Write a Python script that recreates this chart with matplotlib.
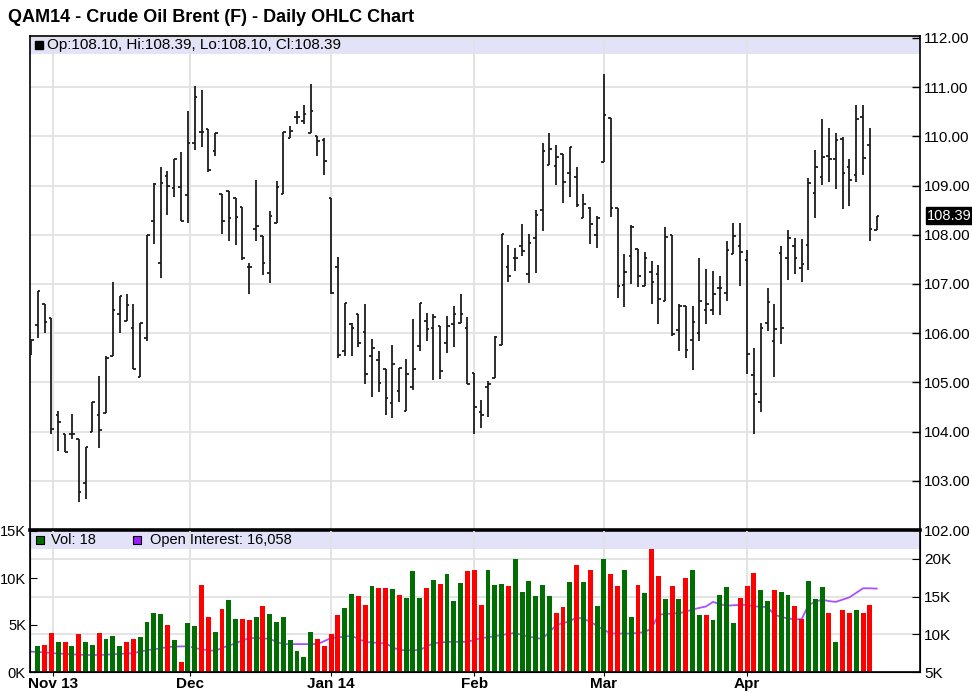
import matplotlib
matplotlib.use("Agg")
import matplotlib.pyplot as plt
from matplotlib.patches import Rectangle
from matplotlib.transforms import blended_transform_factory
import numpy as np

plt.rcParams['font.family'] = ['Liberation Sans', 'DejaVu Sans']

title = "QAM14 - Crude Oil Brent (F) - Daily OHLC Chart"

# daily OHLC, one row per trading day (late Oct 2013 .. late Apr 2014)
opens = [105.56, 106.17, 106.60, 106.30, 104.34, 103.95, 103.95, 103.84, 102.95, 103.99,
         104.34, 104.37, 105.53, 106.40, 106.25, 106.11, 105.10, 105.91, 108.27, 107.43,
         109.19, 108.95, 108.97, 108.80, 109.86, 110.09, 110.14, 109.71, 108.83, 108.88,
         108.75, 108.57, 107.34, 108.11, 107.98, 107.23, 108.24, 108.83, 109.97, 110.40,
         110.32, 110.07, 110.00, 109.93, 108.75, 107.34, 105.64, 106.18, 106.40, 106.03,
         105.54, 105.45, 105.27, 104.59, 104.83, 104.42, 104.91, 105.74, 106.25, 106.11,
         106.15, 105.81, 106.18, 106.21, 106.11, 105.20, 104.39, 104.91, 105.08, 105.77,
         107.34, 107.53, 107.77, 107.21, 107.94, 108.51, 109.41, 109.39, 109.64, 109.26,
         109.17, 108.34, 108.55, 108.00, 109.48, 110.37, 108.55, 106.98, 107.56, 107.71,
         106.95, 107.25, 107.21, 106.65, 108.00, 106.06, 106.55, 105.86, 106.01, 106.48,
         106.48, 106.91, 106.81, 107.60, 107.77, 107.48, 105.15, 104.61, 106.21, 105.84,
         107.63, 107.53, 107.77, 107.33, 107.80, 108.85, 109.17, 109.61, 109.55, 109.95,
         109.37, 109.22, 110.39, 109.82, 108.10]
highs = [105.86, 106.86, 106.60, 106.30, 104.42, 103.95, 104.35, 103.84, 103.69, 104.60,
         105.12, 105.54, 107.04, 106.76, 106.80, 106.59, 106.20, 107.99, 109.05, 109.37,
         109.29, 109.55, 109.69, 110.52, 111.03, 110.95, 110.14, 110.06, 108.83, 108.88,
         108.75, 108.57, 107.43, 109.12, 107.98, 108.48, 109.09, 110.09, 110.22, 110.51,
         110.64, 111.06, 110.00, 109.97, 108.75, 107.55, 106.62, 106.21, 106.40, 106.60,
         105.89, 105.64, 105.27, 105.77, 105.29, 105.48, 106.28, 106.62, 106.42, 106.40,
         106.15, 106.35, 106.55, 106.79, 106.32, 105.20, 104.64, 105.03, 105.94, 108.02,
         107.80, 107.73, 108.21, 108.02, 108.51, 109.86, 110.07, 109.83, 109.64, 109.78,
         109.37, 108.83, 108.56, 108.38, 111.26, 110.37, 108.55, 107.61, 108.19, 107.71,
         107.65, 107.46, 107.38, 108.16, 108.00, 106.59, 106.55, 106.55, 107.52, 107.30,
         107.26, 107.17, 107.87, 108.23, 108.23, 107.69, 105.69, 106.21, 106.92, 106.59,
         107.78, 108.09, 107.94, 107.92, 109.15, 109.73, 110.36, 110.18, 110.07, 109.98,
         109.55, 110.64, 110.64, 110.17, 108.39]
lows = [105.56, 105.90, 106.01, 103.96, 103.61, 103.59, 103.85, 102.56, 102.62, 103.99,
        103.67, 104.37, 105.53, 106.01, 106.25, 105.28, 105.10, 105.85, 107.82, 107.13,
        108.41, 108.76, 108.27, 108.24, 109.73, 109.78, 109.28, 109.61, 108.02, 107.87,
        107.79, 107.48, 106.79, 107.87, 107.19, 107.02, 108.24, 108.83, 109.97, 110.25,
        110.25, 110.07, 109.61, 109.22, 106.79, 105.50, 105.54, 105.54, 105.71, 104.96,
        104.71, 104.81, 104.33, 104.27, 104.61, 104.42, 104.84, 105.64, 105.84, 105.04,
        105.06, 105.59, 105.71, 106.21, 104.96, 103.96, 104.08, 104.30, 105.08, 105.77,
        107.04, 107.27, 107.56, 107.02, 107.23, 108.07, 109.41, 109.02, 108.65, 108.76,
        108.56, 108.34, 107.82, 107.73, 109.48, 108.36, 106.72, 106.53, 106.99, 106.94,
        106.95, 106.60, 106.19, 106.65, 105.94, 105.64, 105.50, 105.25, 105.84, 106.19,
        106.37, 106.37, 106.65, 107.60, 106.96, 105.17, 103.96, 104.39, 106.05, 105.10,
        105.79, 107.09, 107.21, 107.04, 107.28, 108.34, 109.02, 109.07, 108.93, 108.53,
        108.58, 109.07, 109.22, 107.87, 108.10]
closes = [105.86, 106.86, 106.23, 104.05, 104.20, 103.59, 103.95, 102.78, 103.69, 104.60,
          104.03, 105.50, 106.48, 106.76, 106.57, 105.28, 106.20, 107.99, 109.04, 109.05,
          108.99, 109.55, 108.27, 109.86, 110.81, 110.09, 109.32, 110.06, 108.27, 108.34,
          108.36, 107.53, 107.34, 108.17, 107.43, 108.38, 108.97, 110.09, 110.11, 110.40,
          110.46, 110.51, 109.90, 109.49, 106.82, 105.55, 106.62, 106.11, 105.81, 105.17,
          105.69, 104.98, 104.69, 105.37, 105.29, 105.17, 105.27, 106.61, 106.08, 106.32,
          105.23, 106.15, 106.38, 106.40, 104.96, 104.49, 104.34, 104.97, 105.92, 108.02,
          107.16, 107.53, 107.68, 107.84, 108.40, 109.71, 109.75, 109.59, 109.07, 109.78,
          108.60, 108.63, 108.22, 108.34, 110.44, 108.55, 106.96, 107.24, 108.16, 107.16,
          107.52, 107.04, 106.69, 107.96, 105.98, 106.55, 105.65, 106.23, 106.65, 106.60,
          106.80, 106.91, 107.70, 107.97, 107.65, 105.57, 104.76, 106.11, 106.64, 106.08,
          106.11, 107.94, 107.52, 107.41, 109.05, 109.37, 109.59, 109.55, 109.93, 109.26,
          109.12, 110.35, 109.56, 108.11, 108.39]

# volume in thousands of contracts, g = up day, r = down day
volume_k = [0.0, 2.8, 2.9, 4.1, 3.2, 3.2, 2.8, 4.0, 3.2, 2.9,
            4.2, 3.5, 3.8, 2.8, 3.2, 3.5, 3.7, 5.3, 6.3, 6.2,
            5.0, 3.4, 1.1, 5.2, 4.9, 9.3, 5.8, 4.3, 6.7, 7.7,
            5.6, 5.6, 5.5, 5.9, 7.0, 6.2, 5.3, 5.8, 3.4, 2.2,
            1.6, 4.3, 3.5, 2.8, 4.0, 6.1, 6.8, 8.3, 8.1, 7.1,
            9.2, 8.9, 8.9, 8.8, 8.2, 7.9, 10.7, 7.9, 8.9, 9.8,
            9.4, 10.4, 7.6, 9.5, 10.7, 10.8, 7.1, 10.9, 9.3, 9.4,
            9.1, 12.0, 8.5, 9.7, 8.1, 9.3, 8.1, 6.25, 6.9, 9.6,
            11.4, 9.6, 10.8, 7.0, 12.0, 10.4, 9.1, 10.8, 5.8, 9.3,
            8.4, 13.1, 10.2, 7.8, 9.1, 7.8, 10.0, 10.8, 6.1, 6.1,
            5.5, 8.2, 9.0, 5.2, 7.9, 9.1, 10.5, 8.7, 7.6, 8.7,
            8.5, 8.2, 7.0, 5.6, 9.7, 7.8, 9.0, 6.25, 3.2, 6.6,
            6.25, 6.6, 6.25, 7.1, 0.018]
vol_dir = ("g" + "grrgrgrggr" + "gggrrggggr" + "grggrrgrgg" + "rrgrgggggg"
           + "grrrrggrrg" + "rrgrgggrgr" + "gggrrrgggr" + "ggggggrrgr"
           + "grggrrggrg" + "rrgrgrggrg" + "gggrrrggrg" + "grrgggrgrr" + "grr" + "g")

# open interest in thousands
open_interest_k = [7.7, 7.65, 7.6, 7.5, 7.45, 7.4, 7.35, 7.3, 7.26, 7.25,
                   7.26, 7.3, 7.35, 7.4, 7.45, 7.5, 7.7, 7.9, 8.0, 8.15,
                   8.3, 8.36, 8.4, 8.4, 8.2, 8.0, 7.9, 7.8, 8.2, 8.5,
                   8.8, 9.2, 9.5, 9.5, 9.45, 9.4, 9.0, 8.7, 8.7, 8.7,
                   8.7, 8.7, 8.7, 9.1, 9.5, 9.6, 9.7, 9.8, 9.4, 9.0,
                   8.9, 8.85, 8.8, 8.3, 7.9, 7.9, 7.9, 7.9, 8.4, 8.8,
                   8.9, 9.0, 9.0, 9.0, 9.0, 9.25, 9.5, 9.6, 9.75, 9.9,
                   10.05, 10.2, 9.9, 9.7, 9.5, 9.4, 10.3, 11.2, 11.5, 11.7,
                   12.3, 12.0, 11.7, 11.1, 10.6, 10.1, 10.1, 10.1, 10.1, 10.2,
                   10.3, 10.8, 12.6, 12.7, 12.75, 12.8, 13.0, 13.3, 13.5, 13.7,
                   14.3, 14.0, 13.8, 13.85, 13.9, 13.9, 13.7, 13.65, 13.6, 12.6,
                   12.3, 12.1, 12.0, 12.0, 13.9, 14.3, 14.6, 14.4, 14.3, 14.6,
                   14.9, 15.5, 16.1, 16.1, 16.058]

month_labels = ["Nov 13", "Dec", "Jan 14", "Feb", "Mar", "Apr"]
month_idx = [3.2, 23.3, 44, 65, 84, 105]

price_ticks = list(range(102, 113))
vol_ticks = [0, 5, 10, 15]
oi_ticks = [5, 10, 15, 20]

GRID = "#e2e2e2"
BAND = "#e2e2f8"
GREEN = "#006e00"
RED = "#ff0000"
PURPLE = "#a852ff"

x = np.arange(len(closes))

fig = plt.figure(figsize=(9.72, 6.93), dpi=100)
W, H = 972, 693
ax = fig.add_axes([30 / W, 1 - 530 / H, 890 / W, 494 / H])
axv = fig.add_axes([30 / W, 1 - 672 / H, 890 / W, 141 / H], sharex=ax)

fig.text(8 / W, 1 - 18 / H, title, fontsize=13, fontweight="bold", va="center")

# ---- price panel ----
ax.set_axisbelow(True)
ax.vlines(x, lows, highs, color="#1c1c1c", lw=1.3, zorder=3)
ax.hlines(opens, x - 0.38, x, color="#1c1c1c", lw=1.3, zorder=3)
ax.hlines(closes, x, x + 0.38, color="#1c1c1c", lw=1.3, zorder=3)
ax.set_xlim(-0.15, 130.35)
ax.set_ylim(102, 112.04)
ax.yaxis.tick_right()
ax.set_yticks(price_ticks)
ax.set_yticklabels([f"{v:.2f}" for v in price_ticks])
ax.tick_params(axis="y", direction="in", length=6, width=1, pad=3, labelsize=11)
ax.set_xticks(month_idx)
ax.tick_params(axis="x", length=0, labelbottom=False)
ax.grid(True, color=GRID, lw=1.3)
for s in ["left", "right", "top"]:
    ax.spines[s].set_linewidth(1.2)
ax.spines["bottom"].set_linewidth(2.6)

ax.add_patch(Rectangle((0, 1 - 18 / 494), 1, 18 / 494, transform=ax.transAxes,
                       color=BAND, zorder=0.2, lw=0))
ax.add_patch(Rectangle((5 / 890, (530 - 49) / 494), 8 / 890, 8 / 494, transform=ax.transAxes,
                       facecolor="black", edgecolor="black", zorder=4))
ax.text(17 / 890, (530 - 45) / 494,
        f"Op:{opens[-1]:.2f}, Hi:{highs[-1]:.2f}, Lo:{lows[-1]:.2f}, Cl:{closes[-1]:.2f}",
        transform=ax.transAxes, fontsize=11, va="center", ha="left", zorder=4)

tr = blended_transform_factory(ax.transAxes, ax.transData)
ax.text(1.008, closes[-1], f"{closes[-1]:.2f}", transform=tr, color="white",
        fontsize=10.5, va="center", ha="left", clip_on=False, zorder=5,
        bbox=dict(boxstyle="square,pad=0.1", fc="black", ec="black"))

# ---- volume / open interest panel ----
axo = axv.twinx()
axv.set_zorder(axo.get_zorder() + 1)
axv.patch.set_visible(False)

colors = [GREEN if c == "g" else RED for c in vol_dir]
axv.bar(x, volume_k, width=0.72, color=colors, zorder=2)
axv.set_ylim(0, 15)
axv.set_yticks(vol_ticks)
axv.set_yticklabels([f"{v}K" for v in vol_ticks])
axv.tick_params(axis="y", direction="in", length=5, pad=3, labelsize=10.5)
axv.set_xticks(month_idx)
axv.set_xticklabels(month_labels, fontweight="bold", fontsize=11)
axv.tick_params(axis="x", direction="out", length=3, pad=0.5)
axv.set_axisbelow(True)
axv.grid(True, axis="x", color=GRID, lw=1.3)
axv.spines["top"].set_visible(False)
for s in ["left", "right", "bottom"]:
    axv.spines[s].set_linewidth(1.2)

axo.plot(x, open_interest_k, color=PURPLE, lw=1.3, zorder=2)
axo.set_ylim(5, 23.7)
axo.set_yticks(oi_ticks)
axo.set_yticklabels([f"{v}K" for v in oi_ticks])
axo.tick_params(axis="y", direction="in", length=6, pad=3, labelsize=11)
axo.set_axisbelow(True)
axo.grid(True, axis="y", color=GRID, lw=1.3)
axo.spines["top"].set_visible(False)
axo.add_patch(Rectangle((0, (672 - 549) / 141), 1, 17 / 141, transform=axo.transAxes,
                        color=BAND, zorder=0.2, lw=0))

axv.add_patch(Rectangle((6 / 890, (672 - 544) / 141), 8 / 890, 8 / 141, transform=axv.transAxes,
                        facecolor=GREEN, edgecolor="black", lw=0.8, zorder=4))
axv.text(21 / 890, (672 - 540) / 141, f"Vol: {round(volume_k[-1] * 1000)}",
         transform=axv.transAxes, fontsize=10.5, va="center", zorder=4)
axv.add_patch(Rectangle((103 / 890, (672 - 544) / 141), 8 / 890, 8 / 141, transform=axv.transAxes,
                        facecolor="#9b1cff", edgecolor="black", lw=0.8, zorder=4))
axv.text(120 / 890, (672 - 540) / 141,
         f"Open Interest: {round(open_interest_k[-1] * 1000):,}",
         transform=axv.transAxes, fontsize=10.5, va="center", zorder=4)

fig.savefig("out.png", dpi=100)
